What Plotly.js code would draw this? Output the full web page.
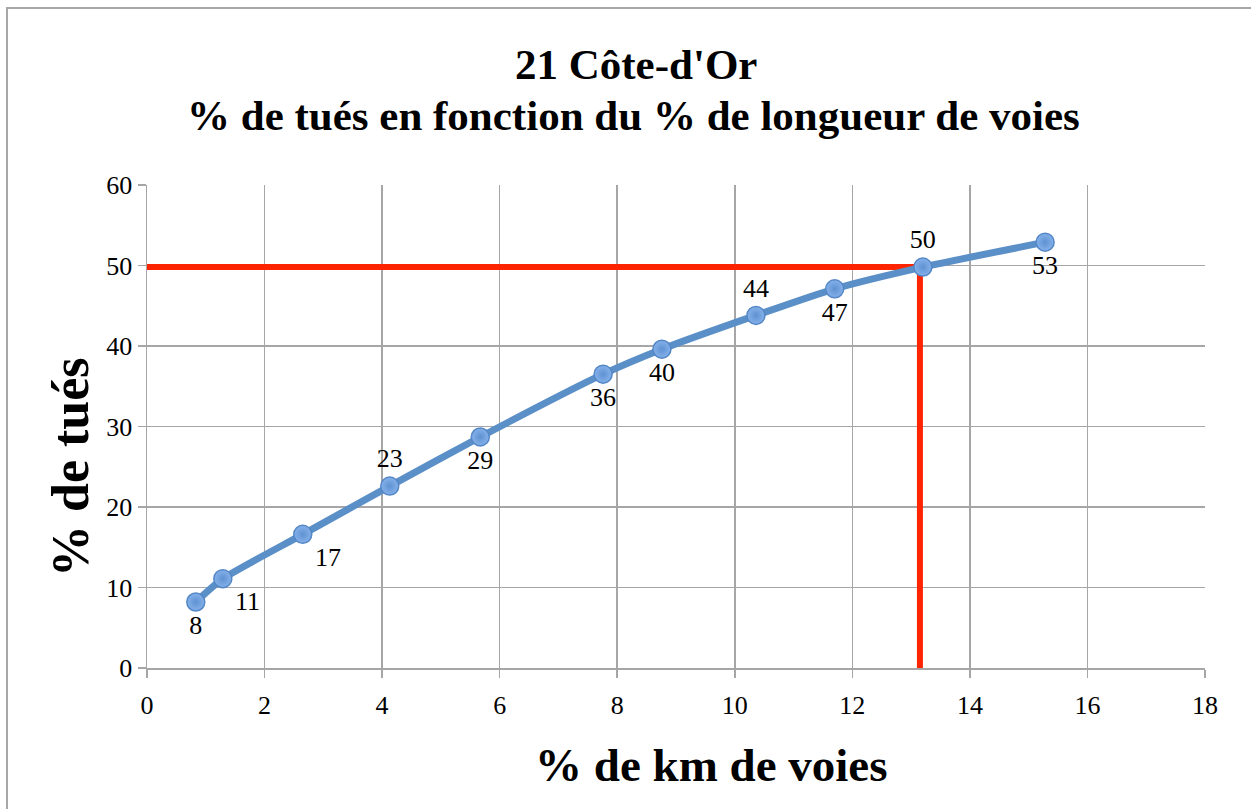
<!DOCTYPE html>
<html>
<head>
<meta charset="utf-8">
<script src="https://cdn.plot.ly/plotly-3.0.1.min.js"></script>
<style>
  html, body { margin: 0; padding: 0; background: #fff; overflow: hidden; }
  #frame { position: absolute; left: 6px; top: 7px; width: 1300px; height: 900px; border: 2px solid #a8a8a8; box-sizing: border-box; }
  #chart { position: absolute; left: 0; top: 0; width: 1251px; height: 809px; }
</style>
</head>
<body>
<div id="frame"></div>
<div id="chart"></div>
<script>
// Data
const kmPct = [0.83, 1.29, 2.65, 4.13, 5.67, 7.76, 8.76, 10.36, 11.70, 13.20, 15.28];
const tuesPct = [8.2, 11.1, 16.6, 22.6, 28.7, 36.5, 39.6, 43.8, 47.1, 49.8, 52.9];
const pointLabels = ["8", "11", "17", "23", "29", "36", "40", "44", "47", "50", "53"];
const labelPositions = ["bottom center", "bottom right", "bottom right", "top center", "bottom center",
  "bottom center", "bottom center", "top center", "bottom center", "top center", "bottom center"];
const guideX = [0, 13.15, 13.15];
const guideY = [49.8, 49.8, 0];

const xTicks = [0, 2, 4, 6, 8, 10, 12, 14, 16, 18];
const yTicks = [0, 10, 20, 30, 40, 50, 60];

const titleLine1 = "21 Côte-d'Or";
const titleLine2 = "% de tués en fonction du % de longueur de voies";
const xTitle = "% de km de voies";
const yTitle = "% de tués";

const serif = "Liberation Serif, Times New Roman, serif";

const traces = [
  {
    x: guideX, y: guideY, mode: "lines", type: "scatter",
    line: { color: "#ff2400", width: 6 }, hoverinfo: "skip", showlegend: false
  },
  {
    x: kmPct, y: tuesPct, mode: "lines+markers+text", type: "scatter",
    text: pointLabels, textposition: labelPositions,
    textfont: { family: serif, size: 26, color: "#000" },
    line: { color: "#5b8fc8", width: 7, shape: "spline", smoothing: 0.6 },
    marker: { size: 18, color: "#85b1ea", line: { color: "#5487c6", width: 1.5 },
      gradient: { type: "radial", color: "#5f92d2" } },
    showlegend: false
  }
];

const layout = {
  width: 1251, height: 809,
  paper_bgcolor: "rgba(0,0,0,0)", plot_bgcolor: "#fff",
  margin: { l: 147, r: 46, t: 185, b: 141 },
  annotations: [
    { text: "<b>" + titleLine1 + "</b>", xref: "paper", yref: "paper", x: 0.462, y: (668 - 65) / 483,
      xanchor: "center", yanchor: "middle", showarrow: false,
      font: { family: serif, size: 43, color: "#000" } },
    { text: "<b>" + titleLine2 + "</b>", xref: "paper", yref: "paper", x: 0.46, y: (668 - 115) / 483,
      xanchor: "center", yanchor: "middle", showarrow: false,
      font: { family: serif, size: 43, color: "#000" } },
    { text: "<b>" + xTitle + "</b>", xref: "paper", yref: "paper", x: (711 - 147) / 1058, y: (668 - 765) / 483,
      xanchor: "center", yanchor: "middle", showarrow: false,
      font: { family: serif, size: 47, color: "#000" } },
    { text: "<b>" + yTitle + "</b>", xref: "paper", yref: "paper", x: (70 - 147) / 1058, y: (668 - 467) / 483,
      xanchor: "center", yanchor: "middle", showarrow: false, textangle: -90,
      font: { family: serif, size: 52, color: "#000" } }
  ],
  xaxis: {
    range: [0, 18], tickvals: xTicks, ticktext: xTicks.map(String),
    showgrid: true, gridcolor: "#a6a6a6", gridwidth: 1.5,
    showline: true, linecolor: "#a6a6a6", linewidth: 1.5, mirror: false,
    ticks: "outside", ticklen: 8, tickcolor: "#a6a6a6", tickwidth: 1.5,
    tickfont: { family: serif, size: 26, color: "#000" }, ticklabelstandoff: 5,
    zeroline: false
  },
  yaxis: {
    range: [0, 60], tickvals: yTicks, ticktext: yTicks.map(String),
    showgrid: true, gridcolor: "#a6a6a6", gridwidth: 1.5,
    showline: true, linecolor: "#a6a6a6", linewidth: 1.5,
    ticks: "outside", ticklen: 8, tickcolor: "#a6a6a6", tickwidth: 1.5,
    tickfont: { family: serif, size: 26, color: "#000" },
    zeroline: false
  }
};

Plotly.newPlot("chart", traces, layout, { displayModeBar: false, staticPlot: true });
</script>
</body>
</html>
